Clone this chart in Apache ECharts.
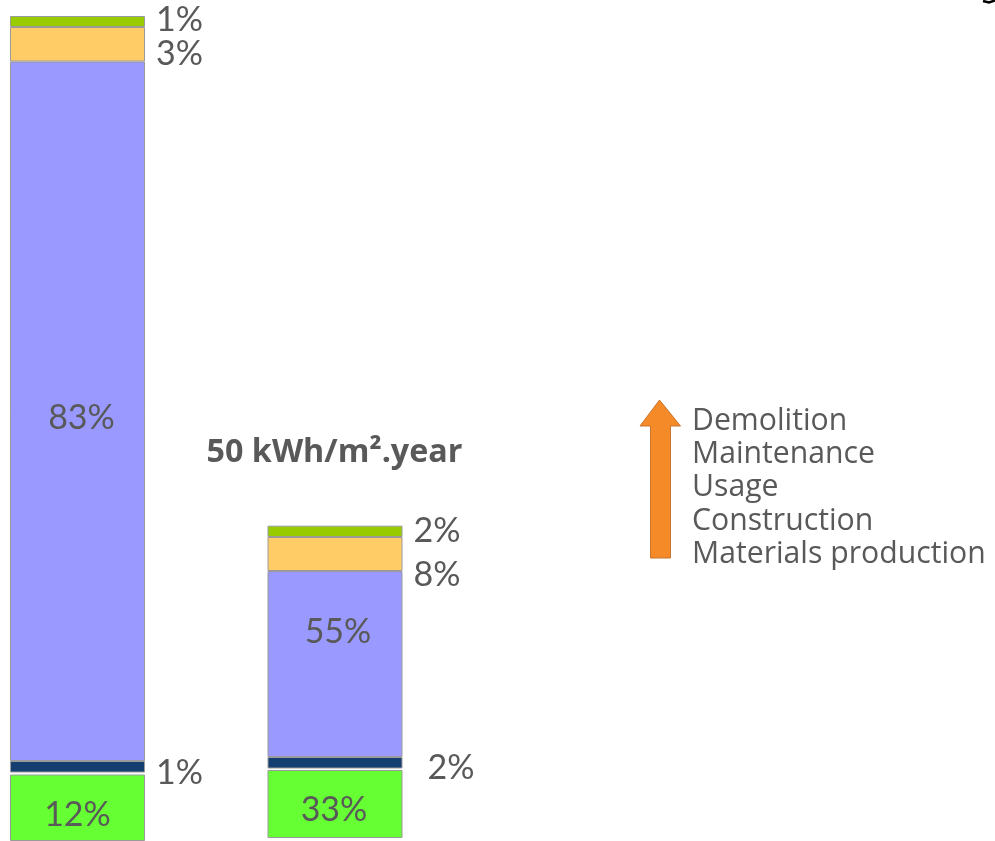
<!DOCTYPE html>
<html>
<head>
<meta charset="utf-8">
<title>Energy shares over the building life cycle</title>
<script src="https://cdn.jsdelivr.net/npm/echarts@6/dist/echarts.min.js"></script>
<style>
  html, body { margin: 0; padding: 0; background: #fff; }
  #chart { width: 995px; height: 841px; }
</style>
</head>
<body>
<div id="chart"></div>
<script>
// two buildings, each stacked from the bottom (materials) to the top (demolition)
var buildings = ['', '50 kWh/m².year'];
var stages = ['Materials production', 'Construction', 'Usage', 'Maintenance', 'Demolition'];

// shares (%) printed on the slide
var materialsPct = [12, 33];
var constructionPct = [1, 2];
var usagePct = [83, 55];
var maintenancePct = [3, 8];
var demolitionPct = [1, 2];

// the slide is not drawn to scale: these are the segment heights as drawn
var baseHeight = [0, 3];
var materialsHeight = [66.5, 68];
var gapHeight = [2, 1.5];
var constructionHeight = [11.5, 11.5];
var usageHeight = [699.5, 186];
var maintenanceHeight = [34.5, 34];
var demolitionHeight = [11, 11.3];

var TEXT = '#595959';
var FONT = 'Lato, "Open Sans", sans-serif';

// label placement per segment (left bar, right bar)
function segment(name, heights, pct, color, pos, offsets, dist) {
  return {
    name: name,
    type: 'bar',
    stack: 'life',
    barWidth: 135,
    clip: false,
    itemStyle: { color: color, borderColor: '#9a9a9a', borderWidth: 1 },
    label: {
      show: true,
      position: pos,
      distance: dist || 5,
      color: TEXT,
      fontFamily: FONT,
      fontSize: 34,
      formatter: function (p) { return pct[p.dataIndex] + '%'; }
    },
    data: heights.map(function (h, i) {
      return { value: h, label: { offset: offsets[i] } };
    })
  };
}

function spacer(heights) {
  return {
    type: 'bar',
    stack: 'life',
    barWidth: 135,
    clip: false,
    silent: true,
    itemStyle: { color: 'rgba(0,0,0,0)' },
    data: heights
  };
}

var series = [
  spacer(baseHeight),
  segment(stages[0], materialsHeight, materialsPct, '#66ff33', 'inside', [[0, 7], [-1, 6]]),
  spacer(gapHeight),
  segment(stages[1], constructionHeight, constructionPct, '#143f70', 'right', [[0, 6], [14, 5]], 11),
  segment(stages[2], usageHeight, usagePct, '#9999ff', 'inside', [[4, 7], [3, -32]]),
  segment(stages[3], maintenanceHeight, maintenancePct, '#ffcc66', 'right', [[0, 10], [0, 21]], 11),
  segment(stages[4], demolitionHeight, demolitionPct, '#99cc00', 'right', [[0, -1], [0, 0]], 11)
];

var chart = echarts.init(document.getElementById('chart'));

// legend: plain text list next to an upward arrow, top stage first
var graphics = stages.slice().reverse().map(function (s, i) {
  return {
    id: 'legend' + i,
    type: 'text',
    x: 692,
    y: 421 + i * 33.3,
    style: { text: s, fill: TEXT, font: '30.2px "Open Sans", sans-serif', textVerticalAlign: 'middle' }
  };
});
graphics.push({
  id: 'arrow',
  type: 'polygon',
  shape: { points: [[659.5, 400], [680.5, 426], [670.5, 426], [670.5, 558], [650.5, 558], [650.5, 426], [640, 426]] },
  style: { fill: '#f58a28', stroke: '#c8752e', lineWidth: 1 }
});
graphics.push({
  id: 'corner',
  type: 'polyline',
  shape: { points: [[983, 1], [989, 2.5], [995, 0.5]] },
  style: { stroke: '#000', lineWidth: 2.5, fill: null }
});

chart.setOption({
  animation: false,
  backgroundColor: '#fff',
  grid: { left: 77.5, width: 257.5, top: 0, bottom: 0 },
  xAxis: { type: 'category', data: buildings, boundaryGap: false, show: false },
  yAxis: { type: 'value', min: 0, max: 841, show: false },
  series: series,
  graphic: graphics
});

// bar titles sit above the top of each stack
buildings.forEach(function (b, i) {
  if (!b) return;
  var total = baseHeight[i] + materialsHeight[i] + gapHeight[i] + constructionHeight[i] +
    usageHeight[i] + maintenanceHeight[i] + demolitionHeight[i];
  var pt = chart.convertToPixel({ xAxisIndex: 0, yAxisIndex: 0 }, [i, total]);
  graphics.push({
    id: 'title' + i,
    type: 'text',
    x: pt[0] - 0.5,
    y: pt[1] - 73,
    style: { text: b, fill: TEXT, font: 'bold 32.3px "Open Sans", sans-serif', textAlign: 'center', textVerticalAlign: 'middle' }
  });
});
chart.setOption({ graphic: graphics });
</script>
</body>
</html>
